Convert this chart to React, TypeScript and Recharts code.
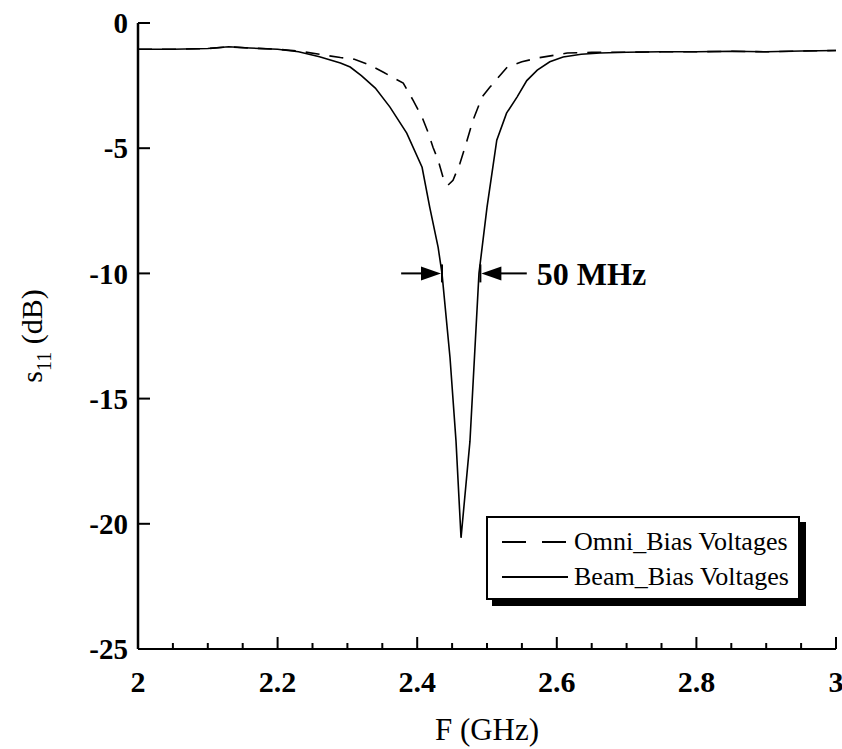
import React from 'react';
import { LineChart, Line, XAxis, YAxis, Legend, ReferenceLine } from 'recharts';

// S11 return loss (GHz, dB)
const beamFreq = [2.0, 2.05, 2.1, 2.13, 2.16, 2.2, 2.23, 2.26, 2.29, 2.304, 2.32, 2.34, 2.361, 2.385, 2.407, 2.418, 2.43, 2.4355, 2.447, 2.4556, 2.4628, 2.4756, 2.4885, 2.5, 2.514, 2.528, 2.543, 2.557, 2.572, 2.59, 2.609, 2.635, 2.662, 2.7, 2.75, 2.8, 2.85, 2.9, 2.95, 3.0];
const beamDb = [-1.05, -1.05, -1.02, -0.95, -1.0, -1.05, -1.15, -1.35, -1.6, -1.76, -2.1, -2.6, -3.36, -4.4, -5.76, -7.36, -8.96, -10, -13.36, -16.7, -20.56, -16.7, -10, -7.36, -4.68, -3.6, -2.96, -2.3, -1.88, -1.55, -1.36, -1.25, -1.2, -1.17, -1.15, -1.15, -1.13, -1.15, -1.12, -1.1];

const omniFreq = [2.0, 2.05, 2.1, 2.13, 2.16, 2.2, 2.23, 2.26, 2.29, 2.31, 2.332, 2.351, 2.38, 2.394, 2.407, 2.4155, 2.4226, 2.43, 2.437, 2.444, 2.4513, 2.4613, 2.4685, 2.48, 2.4928, 2.5043, 2.529, 2.55, 2.572, 2.615, 2.65, 2.7, 2.75, 2.8, 2.85, 2.9, 2.95, 3.0];
const omniDb = [-1.05, -1.05, -1.02, -0.95, -1.0, -1.05, -1.12, -1.25, -1.38, -1.45, -1.68, -1.96, -2.4, -3.08, -3.76, -4.36, -4.96, -5.48, -6.16, -6.48, -6.28, -5.6, -4.96, -3.88, -2.96, -2.56, -1.76, -1.55, -1.4, -1.2, -1.17, -1.17, -1.15, -1.15, -1.13, -1.15, -1.12, -1.1];

const xTicks = [2.0, 2.05, 2.1, 2.15, 2.2, 2.25, 2.3, 2.35, 2.4, 2.45, 2.5, 2.55, 2.6, 2.65, 2.7, 2.75, 2.8, 2.85, 2.9, 2.95, 3.0];
const yTicks = [-25, -20, -15, -10, -5, 0];

// 50 MHz bandwidth marker at -10 dB
const bwLeft = [{ x: 2.377, y: -10 }, { x: 2.4355, y: -10 }];
const bwRight = [{ x: 2.557, y: -10 }, { x: 2.4905, y: -10 }];

const beamData = beamFreq.map((f, i) => ({ f, db: beamDb[i] }));
const omniData = omniFreq.map((f, i) => ({ f, db: omniDb[i] }));

const FONT = '"Liberation Serif", "Times New Roman", serif';

const isMajor = (v: number) => Math.round(v * 100) % 20 === 0;

const BottomTick = (props: any) => {
  const { x, y, payload } = props;
  const major = isMajor(payload.value);
  const label = payload.value === 2 || payload.value === 3 ? String(payload.value) : payload.value.toFixed(1);
  return (
    <g>
      <line x1={x} y1={y} x2={x} y2={y - (major ? 12 : 6)} stroke="#000" strokeWidth={2} />
      {major && (
        <text x={x} y={y + 43} textAnchor="middle" fontFamily={FONT} fontSize={30} fontWeight="bold" fill="#000">
          {label}
        </text>
      )}
    </g>
  );
};

const TopTick = (props: any) => {
  const { x, y, payload } = props;
  const major = isMajor(payload.value);
  return <line x1={x} y1={y} x2={x} y2={y + (major ? 12 : 6)} stroke="#000" strokeWidth={2} />;
};

const LeftTick = (props: any) => {
  const { x, y, payload } = props;
  return (
    <g>
      <line x1={x} y1={y} x2={x + 12} y2={y} stroke="#000" strokeWidth={2} />
      <text x={x - 10} y={y} dy="0.35em" textAnchor="end" fontFamily={FONT} fontSize={29} fontWeight="bold" fill="#000">
        {payload.value}
      </text>
    </g>
  );
};

const RightTick = (props: any) => {
  const { x, y } = props;
  return <line x1={x} y1={y} x2={x - 12} y2={y} stroke="#000" strokeWidth={2} />;
};

const Arrow = (props: any) => {
  const { x1, y1, x2, y2, text } = props;
  const dir = x2 > x1 ? 1 : -1;
  const tip = x2 - dir * 1;
  return (
    <g>
      <line x1={x1} y1={y1} x2={tip - dir * 18} y2={y2} stroke="#000" strokeWidth={2} />
      <polygon points={`${tip},${y2} ${tip - dir * 20},${y2 - 7} ${tip - dir * 20},${y2 + 7}`} fill="#000" />
      <line x1={x2} y1={y2 - 9} x2={x2} y2={y2 + 9} stroke="#000" strokeWidth={2} />
      {text && (
        <text x={x1 + 10} y={y1} dy="0.35em" fontFamily={FONT} fontSize={32} fontWeight="bold" fill="#000">
          {text}
        </text>
      )}
    </g>
  );
};

const YLabel = (props: any) => {
  const vb = props.viewBox;
  const cx = 42;
  const cy = vb.y + vb.height / 2;
  return (
    <text transform={`translate(${cx},${cy}) rotate(-90)`} textAnchor="middle" fontFamily={FONT} fontSize={30} fill="#000">
      s<tspan fontSize={20} dy={9}>11</tspan>
      <tspan dy={-9}> (dB)</tspan>
    </text>
  );
};

const XLabel = (props: any) => {
  const vb = props.viewBox;
  return (
    <text x={vb.x + vb.width / 2} y={740} textAnchor="middle" fontFamily={FONT} fontSize={31} fill="#000">
      F (GHz)
    </text>
  );
};

const LegendBox = () => (
  <div
    style={{
      width: 314,
      height: 84,
      border: '2px solid #000',
      boxShadow: '6px 6px 0 #000',
      background: '#fff',
      fontFamily: FONT,
      fontSize: 26,
      color: '#000',
      boxSizing: 'border-box',
      padding: '6px 0 0 12px',
    }}
  >
    {[
      { name: 'Omni_Bias Voltages', dash: '24 16' },
      { name: 'Beam_Bias Voltages', dash: undefined },
    ].map((it) => (
      <div key={it.name} style={{ display: 'flex', alignItems: 'center', height: 35 }}>
        <svg width={70} height={10} style={{ marginRight: 4 }}>
          <line x1={2} y1={5} x2={68} y2={5} stroke="#000" strokeWidth={2} strokeDasharray={it.dash} />
        </svg>
        <span>{it.name}</span>
      </div>
    ))}
  </div>
);

export default function App() {
  return (
    <div style={{ position: 'absolute', left: 0, top: 0, width: 842, height: 749, background: '#fff' }}>
      <LineChart width={842} height={749} margin={{ top: 23, right: 6, bottom: 0, left: 0 }}>
        <XAxis
          dataKey="f"
          type="number"
          domain={[2, 3]}
          ticks={xTicks}
          interval={0}
          tickSize={0}
          tickMargin={0}
          tickLine={false}
          height={100}
          axisLine={{ stroke: '#000', strokeWidth: 2 }}
          tick={<BottomTick />}
          allowDataOverflow
          label={XLabel}
        />
        <XAxis
          xAxisId="top"
          orientation="top"
          dataKey="f"
          type="number"
          domain={[2, 3]}
          ticks={xTicks}
          interval={0}
          tickSize={0}
          tickMargin={0}
          tickLine={false}
          height={0}
          axisLine={{ stroke: '#000', strokeWidth: 2 }}
          tick={<TopTick />}
        />
        <YAxis
          type="number"
          domain={[-25, 0]}
          ticks={yTicks}
          interval={0}
          tickSize={0}
          tickMargin={0}
          tickLine={false}
          width={138}
          axisLine={{ stroke: '#000', strokeWidth: 2.5 }}
          tick={<LeftTick />}
          allowDataOverflow
          label={YLabel}
        />
        <YAxis
          yAxisId="right"
          orientation="right"
          type="number"
          domain={[-25, 0]}
          ticks={yTicks}
          interval={0}
          tickSize={0}
          tickMargin={0}
          tickLine={false}
          width={0}
          axisLine={{ stroke: '#000', strokeWidth: 2 }}
          tick={<RightTick />}
        />
        <Line
          data={omniData}
          dataKey="db"
          name="Omni_Bias Voltages"
          type="linear"
          stroke="#000"
          strokeWidth={1.6}
          strokeDasharray="14 10"
          dot={false}
          isAnimationActive={false}
        />
        <Line
          data={beamData}
          dataKey="db"
          name="Beam_Bias Voltages"
          type="linear"
          stroke="#000"
          strokeWidth={1.6}
          dot={false}
          isAnimationActive={false}
        />
        <ReferenceLine segment={bwLeft} shape={<Arrow />} ifOverflow="visible" />
        <ReferenceLine segment={bwRight} shape={<Arrow text="50 MHz" />} ifOverflow="visible" />
        <Legend
          layout="horizontal"
          verticalAlign="middle"
          content={<LegendBox />}
          wrapperStyle={{ position: 'absolute', left: 486, top: 516, width: 'auto', height: 'auto' }}
        />
      </LineChart>
    </div>
  );
}
